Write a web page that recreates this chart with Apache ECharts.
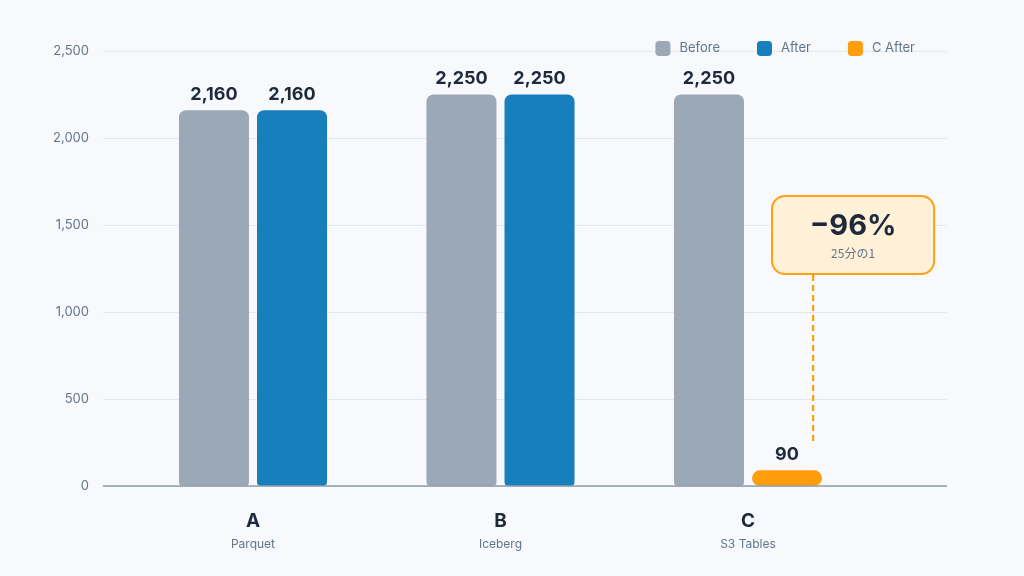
<!DOCTYPE html>
<html>
<head>
<meta charset="utf-8">
<script src="https://cdn.jsdelivr.net/npm/echarts@6/dist/echarts.min.js"></script>
<style>
  html, body { margin: 0; padding: 0; background: #F7F9FC; }
  #main { width: 1024px; height: 576px; }
</style>
</head>
<body>
<div id="main"></div>
<script>
const categories = ['A', 'B', 'C'];
const subLabels = ['Parquet', 'Iceberg', 'S3 Tables'];
const beforeValues = [2160, 2250, 2250];
const afterValues = [2160, 2250, null];
const cAfterValues = [null, null, 90];
const yTicks = [0, 500, 1000, 1500, 2000, 2500];
const calloutTitle = '\u221296%';
const calloutSub = '25分の1';

const colors = { before: '#9BA8B6', after: '#177FBC', cAfter: '#FF9D0A' };
const dark = '#1E293B';
const muted = '#64748B';

const chart = echarts.init(document.getElementById('main'));

function toPoints(values) {
    return values.map((v, i) => [i, v]);
}

function valueLabel() {
    return {
        show: true,
        position: 'top',
        distance: 7,
        fontFamily: 'Inter',
        fontSize: 18,
        fontWeight: 'bold',
        color: dark,
        formatter: p => p.value[1] == null ? '' : p.value[1].toLocaleString('en-US')
    };
}

const option = {
    backgroundColor: '#F7F9FC',
    textStyle: { fontFamily: 'Inter' },
    animation: false,
    legend: {
        right: 104,
        top: 36,
        icon: 'roundRect',
        itemWidth: 15,
        itemHeight: 15,
        itemGap: 37,
        textStyle: { color: muted, fontSize: 13, padding: [0, 0, 0, 4] },
        data: ['Before', 'After', 'C After']
    },
    grid: { left: 103, right: 77, top: 51, bottom: 90 },
    xAxis: {
        type: 'value',
        min: -0.606,
        max: 2.804,
        splitLine: { show: false },
        axisTick: { show: false },
        axisLine: { show: false },
        axisLabel: {
            customValues: [0, 1, 2],
            margin: 22,
            formatter: v => '{a|' + categories[Math.round(v)] + '}\n{b|' + subLabels[Math.round(v)] + '}',
            rich: {
                a: { fontSize: 19, fontWeight: 'bold', color: dark, lineHeight: 26, fontFamily: 'Inter' },
                b: { fontSize: 12, color: muted, lineHeight: 20, fontFamily: 'Inter' }
            }
        }
    },
    yAxis: {
        type: 'value',
        min: 0,
        max: 2500,
        interval: 500,
        axisLine: { show: false },
        axisTick: { show: false },
        splitLine: { lineStyle: { color: '#E3E8EF', width: 1 } },
        axisLabel: {
            color: muted,
            fontSize: 13,
            margin: 14,
            formatter: v => v.toLocaleString('en-US')
        }
    },
    series: [
        {
            name: 'Before',
            type: 'bar',
            barWidth: 70,
            barGap: '11.5%',
            itemStyle: { color: colors.before, borderRadius: [7, 7, 4, 4] },
            label: valueLabel(),
            data: toPoints(beforeValues)
        },
        {
            name: 'After',
            type: 'bar',
            stack: 'after',
            barWidth: 70,
            itemStyle: { color: colors.after, borderRadius: [7, 7, 4, 4] },
            label: valueLabel(),
            data: toPoints(afterValues)
        },
        {
            name: 'C After',
            type: 'bar',
            stack: 'after',
            barWidth: 70,
            itemStyle: { color: colors.cAfter, borderRadius: 8 },
            label: valueLabel(),
            data: toPoints(cAfterValues)
        },
        {
            // baseline drawn as a markLine so it sits above the bars' bottom
            type: 'line',
            data: [],
            silent: true,
            markLine: {
                symbol: 'none',
                silent: true,
                label: { show: false },
                lineStyle: { color: '#8E9CAC', width: 1.5, type: 'solid' },
                data: [{ yAxis: 0 }]
            }
        }
    ]
};

chart.setOption(option);

// callout anchored in data coordinates next to the C After bar
const lineTop = chart.convertToPixel({ xAxisIndex: 0, yAxisIndex: 0 }, [2.263, 1213]);
const lineBottom = chart.convertToPixel({ xAxisIndex: 0, yAxisIndex: 0 }, [2.263, 247]);
const boxTopLeft = chart.convertToPixel({ xAxisIndex: 0, yAxisIndex: 0 }, [2.097, 1667]);
const boxBottomRight = chart.convertToPixel({ xAxisIndex: 0, yAxisIndex: 0 }, [2.752, 1218]);
const boxW = boxBottomRight[0] - boxTopLeft[0];
const boxH = boxBottomRight[1] - boxTopLeft[1];

chart.setOption({
    graphic: [
        {
            type: 'line',
            shape: { x1: lineTop[0], y1: lineTop[1], x2: lineBottom[0], y2: lineBottom[1] },
            style: { stroke: colors.cAfter, lineWidth: 2.2, lineDash: [6, 4] }
        },
        {
            type: 'rect',
            shape: { x: boxTopLeft[0], y: boxTopLeft[1], width: boxW, height: boxH, r: 13 },
            style: { fill: '#FFF1D8', stroke: '#FFA116', lineWidth: 2 }
        },
        {
            type: 'text',
            x: boxTopLeft[0] + boxW / 2,
            y: boxTopLeft[1] + 30,
            style: {
                text: calloutTitle,
                fill: dark,
                font: 'bold 29px Inter',
                align: 'center',
                verticalAlign: 'middle'
            }
        },
        {
            type: 'text',
            x: boxTopLeft[0] + boxW / 2,
            y: boxTopLeft[1] + 57,
            style: {
                text: calloutSub,
                fill: muted,
                font: '12px "Noto Sans CJK JP"',
                align: 'center',
                verticalAlign: 'middle'
            }
        }
    ]
});

window.addEventListener('resize', () => {
    chart.resize();
});
</script>
</body>
</html>
